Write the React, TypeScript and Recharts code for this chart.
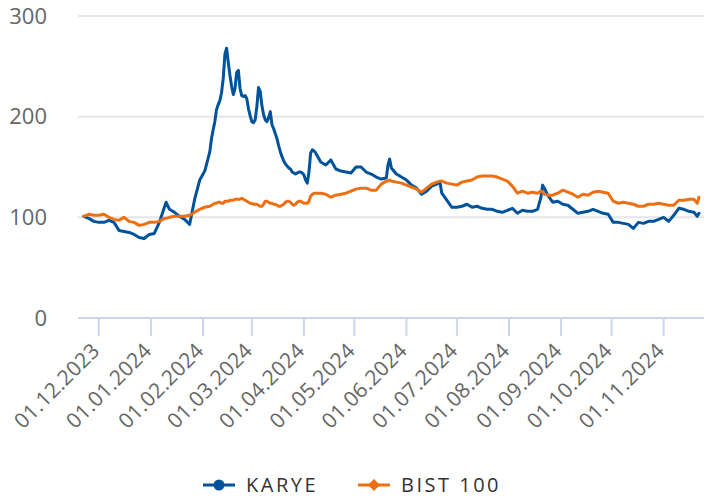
import React from 'react';
import { LineChart, Line, XAxis, YAxis, CartesianGrid } from 'recharts';

const dates = [
  '2023-11-22','2023-11-25','2023-11-28','2023-12-01','2023-12-04','2023-12-07','2023-12-10','2023-12-13','2023-12-16','2023-12-19',
  '2023-12-22','2023-12-25','2023-12-28','2023-12-31','2024-01-03','2024-01-06','2024-01-09','2024-01-10','2024-01-12','2024-01-15',
  '2024-01-18','2024-01-21','2024-01-24','2024-01-27','2024-01-30','2024-02-02','2024-02-05',
  '2024-02-06','2024-02-07','2024-02-08','2024-02-09','2024-02-10','2024-02-11','2024-02-12','2024-02-13','2024-02-14','2024-02-15',
  '2024-02-16','2024-02-17','2024-02-18','2024-02-19','2024-02-20','2024-02-21','2024-02-22','2024-02-23','2024-02-24','2024-02-25',
  '2024-02-26','2024-02-27','2024-02-28','2024-02-29','2024-03-01','2024-03-02','2024-03-03','2024-03-04','2024-03-05','2024-03-06',
  '2024-03-07','2024-03-08','2024-03-09','2024-03-10','2024-03-11','2024-03-12','2024-03-13','2024-03-14','2024-03-15','2024-03-16',
  '2024-03-17','2024-03-18','2024-03-19','2024-03-20','2024-03-21','2024-03-22','2024-03-23','2024-03-24','2024-03-25','2024-03-26',
  '2024-03-27','2024-03-28','2024-03-29','2024-03-30','2024-03-31','2024-04-01','2024-04-02','2024-04-03','2024-04-04','2024-04-05',
  '2024-04-06','2024-04-07',
  '2024-04-08','2024-04-11','2024-04-14','2024-04-17','2024-04-20','2024-04-23','2024-04-26','2024-04-29','2024-05-02','2024-05-05',
  '2024-05-08','2024-05-11','2024-05-14','2024-05-17','2024-05-20','2024-05-21','2024-05-22','2024-05-23','2024-05-26','2024-05-29',
  '2024-06-01','2024-06-04','2024-06-07','2024-06-10','2024-06-13','2024-06-16','2024-06-19','2024-06-21','2024-06-22','2024-06-25',
  '2024-06-28','2024-07-01','2024-07-04','2024-07-07','2024-07-10','2024-07-13','2024-07-16','2024-07-19','2024-07-22','2024-07-25',
  '2024-07-28','2024-07-31','2024-08-03','2024-08-06','2024-08-09','2024-08-12','2024-08-15','2024-08-18','2024-08-20','2024-08-21',
  '2024-08-22','2024-08-24','2024-08-27','2024-08-30','2024-09-02','2024-09-05','2024-09-08','2024-09-11','2024-09-14','2024-09-17',
  '2024-09-20','2024-09-23','2024-09-26','2024-09-29','2024-10-02','2024-10-05','2024-10-08','2024-10-11','2024-10-14','2024-10-17',
  '2024-10-20','2024-10-23','2024-10-26','2024-10-29','2024-11-01','2024-11-04','2024-11-07','2024-11-10','2024-11-13','2024-11-16',
  '2024-11-19','2024-11-21','2024-11-22',
];

const karyeValues = [
  101, 99, 96, 95, 95, 97, 95, 87, 86, 85,
  83, 80, 79, 83, 84, 95, 110, 115, 108, 105,
  101, 98, 93, 118, 137, 146, 165,
  178, 187, 195, 207, 212, 216, 224, 238, 262, 268,
  254, 241, 230, 222, 228, 244, 246, 228, 221, 220,
  221, 218, 208, 201, 195, 194, 197, 210, 229, 225,
  211, 202, 197, 195, 199, 205, 192, 188, 183, 178,
  171, 165, 160, 156, 153, 151, 149, 148, 145, 144,
  143, 144, 145, 145, 144, 142, 137, 134, 145, 164,
  167, 166,
  164, 155, 152, 157, 148, 146, 145, 144, 150, 150,
  145, 143, 140, 138, 139, 152, 158, 149, 143, 140,
  137, 132, 129, 123, 126, 131, 133, 134, 124, 117,
  110, 110, 111, 113, 110, 111, 109, 108, 108, 106,
  105, 107, 109, 104, 107, 106, 106, 108, 120, 132,
  129, 122, 115, 116, 113, 112, 108, 104, 105, 106,
  108, 106, 104, 103, 95, 95, 94, 93, 89, 95,
  94, 96, 96, 98, 100, 96, 102, 109, 108, 106,
  105, 101, 104,
];

const bistValues = [
  101, 103, 102, 102, 103, 100, 98, 97, 100, 96,
  95, 92, 93, 95, 95, 96, 99, 99, 100, 101,
  101, 101, 102, 105, 108, 110, 111,
  112, 113, 114, 114, 115, 115, 114, 114, 116, 116,
  116, 117, 117, 117, 118, 118, 118, 118, 119, 118,
  117, 116, 115, 114, 114, 113, 113, 113, 112, 111,
  111, 113, 116, 116, 115, 114, 114, 113, 113, 112,
  111, 111, 112, 113, 115, 116, 116, 115, 113, 112,
  113, 115, 116, 116, 115, 114, 114, 114, 116, 121,
  123, 124,
  124, 124, 123, 120, 122, 123, 124, 126, 128, 129,
  129, 127, 127, 133, 136, 136, 137, 136, 135, 134,
  132, 130, 128, 125, 129, 133, 135, 136, 136, 134,
  133, 132, 135, 136, 137, 140, 141, 141, 141, 140,
  138, 136, 131, 124, 126, 124, 125, 124, 126, 125,
  123, 122, 122, 124, 127, 125, 123, 120, 123, 122,
  125, 126, 125, 124, 116, 114, 115, 114, 113, 111,
  111, 113, 113, 114, 113, 112, 112, 117, 117, 118,
  118, 114, 120,
];

const seriesNames = ['KARYE', 'BIST 100'];
const seriesKeys = ['karye', 'bist'];
const seriesColors = ['#00529b', '#ec7012'];

const tickDates = [
  '2023-12-01','2024-01-01','2024-02-01','2024-03-01','2024-04-01','2024-05-01',
  '2024-06-01','2024-07-01','2024-08-01','2024-09-01','2024-10-01','2024-11-01',
];
const tickLabels = [
  '01.12.2023','01.01.2024','01.02.2024','01.03.2024','01.04.2024','01.05.2024',
  '01.06.2024','01.07.2024','01.08.2024','01.09.2024','01.10.2024','01.11.2024',
];
const yTicks = [0, 100, 200, 300];

const FONT = '"Open Sans", "Noto Sans", sans-serif';
const DAY = 86400000;
const toTs = (s: string) => Date.parse(s + 'T00:00:00Z');

const data = dates.map((d, i) => ({ t: toTs(d), karye: karyeValues[i], bist: bistValues[i] }));
const xTicks = tickDates.map(toTs);
const labelByTs = new Map(xTicks.map((t, i) => [t, tickLabels[i]]));
const xDomain = [toTs('2023-12-01') - 12.4 * DAY, toTs('2023-12-01') + 360 * DAY];

const XTick = (props: any) => {
  const { x, y, payload } = props;
  const px = x + 2;
  const py = y + 14;
  return (
    <text x={px} y={py} transform={`rotate(-45 ${px} ${py})`} textAnchor="end" fill="#666666" fontSize={21} letterSpacing={0.3} fontFamily={FONT}>
      {labelByTs.get(payload.value)}
    </text>
  );
};

const LegendIcon = ({ color, shape }: { color: string; shape: string }) => (
  <svg width={32} height={14} style={{ display: 'block' }}>
    <line x1={0} y1={7} x2={32} y2={7} stroke={color} strokeWidth={3} />
    {shape === 'circle' ? (
      <circle cx={16} cy={7} r={5.5} fill={color} />
    ) : (
      <path d="M16 1 L22 7 L16 13 L10 7 Z" fill={color} />
    )}
  </svg>
);

export default function App() {
  return (
    <div style={{ position: 'absolute', left: 0, top: 0, width: 704, height: 499, background: '#fff', overflow: 'hidden' }}>
      <LineChart width={704} height={499} data={data} margin={{ top: 16, right: 0, bottom: 0, left: 0 }}>
        <CartesianGrid vertical={false} stroke="#e6e6e6" strokeWidth={2} />
        <XAxis
          dataKey="t"
          type="number"
          scale="time"
          domain={xDomain}
          ticks={xTicks}
          allowDataOverflow
          height={181}
          tickSize={18}
          tickMargin={2}
          axisLine={{ stroke: '#ccd6eb', strokeWidth: 2 }}
          tickLine={{ stroke: '#ccd6eb', strokeWidth: 2 }}
          tick={<XTick />}
          interval={0}
        />
        <YAxis
          type="number"
          domain={[0, 300]}
          ticks={yTicks}
          width={78}
          axisLine={false}
          tickLine={false}
          tickSize={0}
          tickMargin={31}
          tick={{ fill: '#666666', fontSize: 22, fontFamily: FONT }}
        />
        {seriesKeys.map((k, i) => (
          <Line
            key={k}
            dataKey={k}
            name={seriesNames[i]}
            type="linear"
            stroke={seriesColors[i]}
            strokeWidth={3}
            dot={false}
            activeDot={false}
            isAnimationActive={false}
            strokeLinejoin="round"
            strokeLinecap="round"
          />
        ))}
      </LineChart>
      <div
        style={{
          position: 'absolute', left: 0, top: 471, width: 704, height: 28,
          display: 'flex', justifyContent: 'center', alignItems: 'center',
          fontFamily: FONT, fontSize: 20, lineHeight: '28px', color: '#333333', letterSpacing: 2.5,
        }}
      >
        {seriesNames.map((n, i) => (
          <div key={n} style={{ display: 'flex', alignItems: 'center', marginLeft: i === 0 ? 0 : 40 }}>
            <LegendIcon color={seriesColors[i]} shape={i === 0 ? 'circle' : 'diamond'} />
            <span style={{ marginLeft: 11, lineHeight: '28px' }}>{n}</span>
          </div>
        ))}
      </div>
    </div>
  );
}
